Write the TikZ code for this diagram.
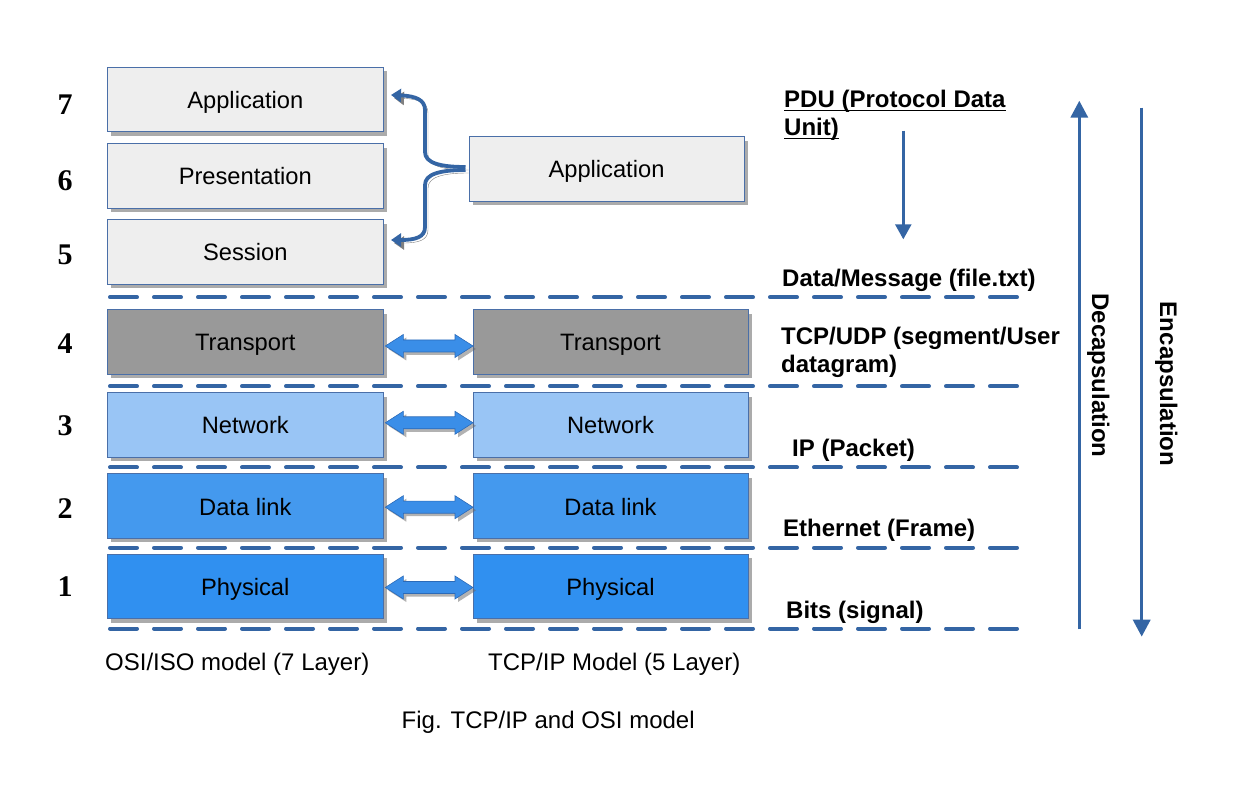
\documentclass[tikz,border=0pt]{standalone}
\usepackage{fontspec}
\setmainfont{Liberation Sans}
\newfontfamily\numfont{Liberation Serif}
\usetikzlibrary{arrows.meta,calc,shadows}
\definecolor{lineblue}{HTML}{3465A4}
\definecolor{grayfill}{HTML}{EEEEEE}
\definecolor{boxborder}{HTML}{4A6FA8}
\definecolor{transfill}{HTML}{999999}
\definecolor{netfill}{HTML}{99C5F5}
\definecolor{dlfill}{HTML}{4499EE}
\definecolor{phyfill}{HTML}{3090F0}
\definecolor{arrfill}{HTML}{3A8EE8}
\definecolor{arrborder}{HTML}{2B6AB8}
\newcommand\dblarr[3]{%
  \path[dblarrow] let \p1=($(#1.east)+(0,#3)$), \p2=($(#2.west)+(0,#3)$) in
  (\x1+2pt,\y1) -- (\x1+20pt,\y1+11.5pt) -- (\x1+20pt,\y1+6pt) -- (\x2-18pt,\y1+6pt)
  -- (\x2-18pt,\y1+11.5pt) -- (\x2,\y1) -- (\x2-18pt,\y1-11.5pt) -- (\x2-18pt,\y1-6pt)
  -- (\x1+20pt,\y1-6pt) -- (\x1+20pt,\y1-11.5pt) -- cycle;}
\begin{document}
\begin{tikzpicture}[x=1pt,y=-1pt,
  layer/.style={draw=boxborder, line width=1pt, minimum width=276pt, minimum height=64.5pt,
    inner sep=0pt, outer sep=0pt, font=\fontsize{23.7}{28}\selectfont,
    text height=21pt, text depth=3pt,
    drop shadow={shadow xshift=4pt, shadow yshift=-4pt, fill=black!60, opacity=.55}},
  tcplayer/.style={layer, minimum width=275pt},
  num/.style={inner sep=0pt, font=\numfont\bfseries\fontsize{30}{30}\selectfont},
  lbl/.style={inner sep=0pt, anchor=base west, font=\bfseries\fontsize{24}{28}\selectfont},
  plain/.style={inner sep=0pt, anchor=base west, font=\fontsize{24}{28}\selectfont},
  rot/.style={inner sep=0pt, anchor=base, rotate=-90, font=\bfseries\fontsize{24}{28}\selectfont},
  sep/.style={draw=lineblue, line width=4pt, line cap=round, dash pattern=on 27pt off 17pt},
  uline/.style={draw=black, line width=1.5pt},
  dblarrow/.style={fill=arrfill, draw=arrborder, line width=0.6pt,
    drop shadow={shadow xshift=3pt, shadow yshift=-3pt, fill=black!60, opacity=.5}},
  bracearrow/.style={draw=lineblue, line width=3.8pt, -{Triangle[length=10pt,width=13pt]},
    preaction={draw=black!50, transform canvas={xshift=3pt,yshift=-3pt}}},
  vert/.style={draw=lineblue, line width=3.5pt, -{Triangle[length=17pt,width=17pt]}},
  pduarrow/.style={draw=lineblue, line width=2.5pt, -{Triangle[length=15pt,width=16pt]}}
]
\useasboundingbox (0,0) rectangle (1251,791);

% separators
\foreach \yy/\nm in {297.3/s1, 386.3/s2, 467.5/s3, 547.7/s4, 628.5/s5}{
  \coordinate (\nm a) at (110,\yy);
  \coordinate (\nm b) at (1020,\yy);
  \draw[sep] (\nm a) -- (\nm b);
}

% OSI layers
\node[layer,fill=grayfill]  (osi7) at (245.3,99.5)  {Application};
\node[layer,fill=grayfill]  (osi6) at (245.3,175.8) {Presentation};
\node[layer,fill=grayfill]  (osi5) at (245.3,252)   {Session};
\node[layer,fill=transfill] (osi4) at (245.3,342)   {Transport};
\node[layer,fill=netfill]   (osi3) at (245.3,424.8) {Network};
\node[layer,fill=dlfill]    (osi2) at (245.3,506.2) {Data link};
\node[layer,fill=phyfill]   (osi1) at (245.3,586.5) {Physical};

% TCP/IP layers
\node[tcplayer,fill=grayfill]  (tcpapp) at (606.5,169)  {Application};
\node[tcplayer,fill=transfill] (tcp4)   at (610.5,342)   {Transport};
\node[tcplayer,fill=netfill]   (tcp3)   at (610.5,424.8) {Network};
\node[tcplayer,fill=dlfill]    (tcp2)   at (610.5,506.2) {Data link};
\node[tcplayer,fill=phyfill]   (tcp1)   at (610.5,586.5) {Physical};

% layer numbers
\node[num] (n7) at (65,105)   {7};
\node[num] (n6) at (65,181)   {6};
\node[num] (n5) at (65,255)   {5};
\node[num] (n4) at (65,343.5) {4};
\node[num] (n3) at (65,425.5) {3};
\node[num] (n2) at (65,508.5) {2};
\node[num] (n1) at (65,587)   {1};

% double arrows
\dblarr{osi4}{tcp4}{4}
\dblarr{osi3}{tcp3}{-2}
\dblarr{osi2}{tcp2}{1}
\dblarr{osi1}{tcp1}{1}

% brace arrows
\draw[bracearrow] ($(tcpapp.west)+(-3.5,-2)$) .. controls (440,167) and (425,163) .. (425,152)
  -- (425,110) .. controls (425,100) and (416,96) .. ($(osi7.east)+(7.7,-4.5)$);
\draw[bracearrow] ($(tcpapp.west)+(-3.5,1)$) .. controls (440,170) and (425,174) .. (425,185)
  -- (425,227) .. controls (425,237) and (416,240) .. ($(osi5.east)+(7.7,-12)$);

% right labels
\node[lbl] (pdu1) at (784,108) {PDU (Protocol Data};
\node[lbl] (pdu2) at (784,136) {Unit)};
\draw[uline] ($(pdu1.base west)+(0,2.5)$) -- ($(pdu1.base east)+(0,2.5)$);
\draw[uline] ($(pdu2.base west)+(0,2.5)$) -- ($(pdu2.base east)+(0,2.5)$);
\node[lbl] (msg)  at (782,287) {Data/Message (file.txt)};
\node[lbl] (seg1) at (781,345) {TCP/UDP (segment/User};
\node[lbl] (seg2) at (781,372.7) {datagram)};
\node[lbl] (pkt)  at (792,456.7) {IP (Packet)};
\node[lbl] (frm)  at (783,536.7) {Ethernet (Frame)};
\node[lbl] (bits) at (786,618.3) {Bits (signal)};

% PDU arrow
\coordinate (pa) at (903.3,130.7);
\coordinate (pb) at (903.3,239.3);
\draw[pduarrow] (pa) -- (pb);

% encapsulation / decapsulation
\coordinate (da) at (1079.3,629.3);
\coordinate (db) at (1079.3,100.7);
\draw[vert] (da) -- (db);
\coordinate (ea) at (1141.7,107.7);
\coordinate (eb) at (1141.7,636.7);
\draw[vert] (ea) -- (eb);
\node[rot] (decap) at (1092,375.5) {Decapsulation};
\node[rot] (encap) at (1160,384) {Encapsulation};

% bottom labels
\node[plain] (osicap) at (105,670.7) {OSI/ISO model (7 Layer)};
\node[plain] (tcpcap) at (488,670) {TCP/IP Model (5 Layer)};
\node[plain] (fig)    at (401.5,728) {Fig. TCP/IP and OSI model};
\end{tikzpicture}
\end{document}
